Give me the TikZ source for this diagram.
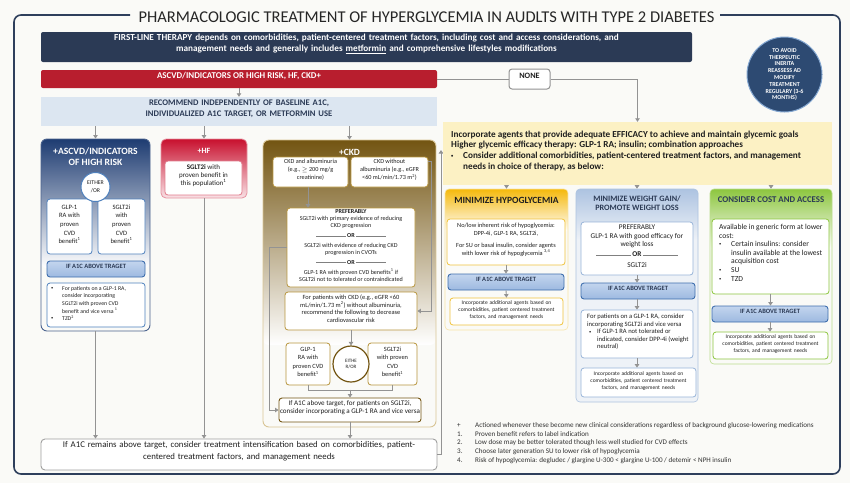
\documentclass[tikz,border=0pt]{standalone}
\usepackage{fontspec}
\setmainfont{Carlito}
\usetikzlibrary{arrows.meta,calc,fit,shapes.geometric}
\definecolor{bgc}{HTML}{FAFAF7}
\definecolor{navy}{HTML}{2B3A55}
\definecolor{framec}{HTML}{2E3F5C}
\definecolor{redbar}{HTML}{B81E2E}
\definecolor{recblue}{HTML}{DCE6F1}
\definecolor{colnavy}{HTML}{1E3C72}
\definecolor{boxblue}{HTML}{4F81BD}
\definecolor{hfred}{HTML}{C8102E}
\definecolor{ckdbrown}{HTML}{735512}
\definecolor{ckdgold}{HTML}{B8963E}
\definecolor{arrgray}{HTML}{939393}
\definecolor{adeqyel}{HTML}{FCF1C4}
\definecolor{hypoor}{HTML}{F5B90C}
\definecolor{hypobd}{HTML}{F0C33C}
\definecolor{wtblue}{HTML}{ADC3E1}
\definecolor{wtpale}{HTML}{EEF2F7}
\definecolor{wtbd}{HTML}{98B4D8}
\definecolor{costgr}{HTML}{8DC63F}
\definecolor{a1ctop}{HTML}{C3D5EE}
\definecolor{a1cbot}{HTML}{9DB9E0}
\definecolor{a1cbd}{HTML}{3E6EAD}
\definecolor{txt}{HTML}{1F1F1F}
\definecolor{circnavy}{HTML}{2D4A72}
\newcommand{\myorline}[1]{\textcolor{gray}{\rule[1.5pt]{#1}{0.4pt}}\,\textbf{OR}\,\textcolor{gray}{\rule[1.5pt]{#1}{0.4pt}}}
\newcommand{\mybul}[1]{\makebox[#1][l]{\raisebox{0.25ex}{\fontsize{4.5}{4.5}\selectfont\textbullet}}}
\begin{document}
\begin{tikzpicture}[x=1pt,y=-1pt,
  every node/.style={text=txt},
  arr/.style={draw=arrgray, line width=0.9pt, -{Triangle[width=4.5pt,length=3.5pt]}},
  ln/.style={draw=arrgray, line width=0.9pt},
  wbox/.style={fill=white, rounded corners=3pt, inner sep=0pt, align=center, line width=0.8pt},
  a1c/.style={draw=a1cbd, line width=0.9pt, rounded corners=3pt, top color=a1ctop, bottom color=a1cbot, inner sep=0pt, font=\bfseries\fontsize{6.5}{7}\selectfont, text=navy},
  smalltxt/.style={font=\fontsize{5.5}{7}\selectfont, align=center}
]
\useasboundingbox (0,0) rectangle (850,483);
\fill[bgc] (0,0) rectangle (850,483);
% frame
\draw[framec, line width=1.6pt, rounded corners=7pt] (130,15) -- (14,15) -- (14,474) -- (840,474) -- (840,15) -- (720,15);
\node[font=\fontsize{16.5}{20}\selectfont, text=black!85] (title) at (426.5,17) {PHARMACOLOGIC TREATMENT OF HYPERGLYCEMIA IN AUDLTS WITH TYPE 2 DIABETES};

% first line
\node[fill=navy, rounded corners=2pt, fit={(41,32) (692,62)}, inner sep=0pt, text=white, font=\bfseries\fontsize{9.2}{11.5}\selectfont, align=center] (first) {FIRST-LINE THERAPY depends on comorbidities, patient-centered treatment factors, including cost and access considerations, and\\management needs and generally includes \underline{metformin} and comprehensive lifestyles modifications};

\node[fill=redbar, rounded corners=2pt, fit={(41,70) (437,88)}, inner sep=0pt, text=white, font=\bfseries\fontsize{8.9}{10}\selectfont] (risk) {ASCVD/INDICATORS OR HIGH RISK, HF, CKD+};
\node[draw=arrgray, line width=1pt, fill=white, rounded corners=3pt, fit={(509,69) (550,89)}, inner sep=0pt, font=\bfseries\fontsize{8.2}{9}\selectfont] (none) {NONE};
\node[circle, fill=circnavy, draw=boxblue!70, line width=1pt, minimum size=75pt, inner sep=0pt, text=white, font=\bfseries\fontsize{6}{6.8}\selectfont, align=center] (remind) at (784.5,74.5) {TO AVOID\\THERPEUTIC\\INERITA\\REASSESS AD\\MODIFY\\TREATMENT\\REGULARY (3-6\\MONTHS)};

\node[fill=recblue, fit={(41,97) (437,126)}, inner sep=0pt, font=\bfseries\fontsize{8.6}{10.3}\selectfont, text=navy, align=center] (rec) {RECOMMEND INDEPENDENTLY OF BASELINE A1C,\\INDIVIDUALIZED A1C TARGET, OR METFORMIN USE};

\draw[ln] (risk.east) -- (none.west);
\draw[arr] (risk.south) -- (rec.north);

% ---------------- ASCVD column
\shade[top color=colnavy, bottom color=white, rounded corners=6pt] (41,139) rectangle (150,268);
\node[draw=colnavy!80, line width=0.9pt, rounded corners=6pt, fit={(41,139) (150,331)}, inner sep=0pt] (ascvd) {};
\node[text=white, font=\bfseries\fontsize{9.6}{11}\selectfont, align=center] (ascvdT) at (95.5,156.5) {+ASCVD/INDICATORS\\OF HIGH RISK};
\node[wbox, draw=boxblue, fit={(47,199) (92,254)}, font=\fontsize{6.6}{8.6}\selectfont] (glpA) {GLP-1\\RA with\\proven\\CVD\\benefit\textsuperscript{1}};
\node[wbox, draw=boxblue, fit={(98,199) (145,254)}, font=\fontsize{6.6}{8.6}\selectfont] (sgltA) {SGLT2i\\with\\proven\\CVD\\benefit\textsuperscript{1}};
\node[circle, draw=boxblue, line width=1pt, fill=white, minimum size=29pt, inner sep=0pt, font=\fontsize{5.8}{7.5}\selectfont, align=center] (eitherA) at (95.5,187) {EITHER\\/OR};
\node[a1c, fit={(47,261) (145,277)}] (a1cA) {IF A1C ABOVE TRAGET};
\node[wbox, draw=boxblue, fit={(47,283) (145,327)}] (bulA) {};
\node[anchor=north west, font=\fontsize{5.8}{7.6}\selectfont, align=left, inner sep=0pt] (bulAt) at (51,286) {\mybul{11pt}For patients on a GLP-1 RA,\\\hspace*{11pt}consider incorporating\\\hspace*{11pt}SGLT2i with proven CVD\\\hspace*{11pt}benefit and vice versa \textsuperscript{1}\\\mybul{11pt}TZD\textsuperscript{2}};
\draw[arr] (rec.south -| ascvd.north) -- (ascvd.north);

% ---------------- HF column
\shade[top color=hfred, bottom color=hfred!12, rounded corners=5pt] (161,139) rectangle (247,198);
\node[draw=hfred!45, line width=0.8pt, rounded corners=5pt, fit={(161,139) (247,198)}, inner sep=0pt] (hf) {};
\node[text=white, font=\bfseries\fontsize{8}{9}\selectfont] (hfT) at (204,151) {+HF};
\node[wbox, draw=hfred!55, fit={(165,161) (242,195)}, font=\fontsize{7}{8}\selectfont] (hfin) {\textbf{SGLT2i} with\\proven benefit in\\this population\textsuperscript{1}};
\draw[arr] (rec.south -| hf.north) -- (hf.north);

% ---------------- CKD column
\shade[top color=ckdbrown, bottom color=white, rounded corners=6pt] (263,140) rectangle (436,345);
\node[draw=ckdgold!55, line width=0.9pt, rounded corners=6pt, fit={(263,140) (436,427)}, inner sep=0pt] (ckd) {};
\node[text=white, font=\bfseries\fontsize{9.5}{11}\selectfont] (ckdT) at (349.5,152) {+CKD};
\node[wbox, draw=ckdgold, fit={(273,157) (348,187)}, font=\fontsize{6.2}{8}\selectfont] (ckdA) {CKD and albuminuria\\(e.g., $\geq$ 200 mg/g\\creatinine)};
\node[wbox, draw=ckdgold, fit={(351,157) (428,187)}, font=\fontsize{6.2}{8}\selectfont] (ckdB) {CKD without\\albuminuria (e.g., eGFR\\<60 mL/min/1.73 m\textsuperscript{2})};
\node[wbox, draw=ckdgold, fit={(287,208) (415,287)}, font=\fontsize{6.1}{6.9}\selectfont] (pref) {\textbf{PREFERABLY}\\SGLT2i with primary evidence of reducing\\CKD progression\\[3pt]\myorline{30pt}\\[3pt]SGLT2i with evidence of reducing CKD\\progression in CVOTs\\[3pt]\myorline{30pt}\\[3pt]GLP-1 RA with proven CVD benefits\textsuperscript{1} if\\SGLT2i not to tolerated or contraindicated};
\node[wbox, draw=ckdgold, fit={(285,292) (417,330)}, font=\fontsize{6.4}{7.8}\selectfont] (ckdC) {For patients with CKD (e.g., eGFR <60\\mL/min/1.73 m\textsuperscript{2}) without albuminuria,\\recommend the following to decrease\\cardiovascular risk};
\node[wbox, draw=ckdgold, fit={(286,343) (330,385)}, font=\fontsize{6.4}{8.4}\selectfont] (glpB) {GLP-1\\RA with\\proven CVD\\benefit\textsuperscript{1}};
\node[wbox, draw=ckdgold, fit={(368,343) (417,385)}, font=\fontsize{6.4}{8.4}\selectfont] (sgltB) {SGLT2i\\with proven\\CVD\\benefit\textsuperscript{1}};
\node[circle, draw=ckdbrown, line width=1.2pt, fill=white, minimum size=36pt, inner sep=0pt, font=\fontsize{5}{6.5}\selectfont, align=center] (eitherB) at (351,364) {EITHE\\R/OR};
\node[wbox, draw=ckdbrown, line width=0.9pt, fit={(279,398) (421,422)}, font=\fontsize{7.1}{8.8}\selectfont] (a1cC) {If A1C above target, for patients on SGLT2i,\\consider incorporating a GLP-1 RA and vice versa};
\draw[arr] (rec.south -| ckd.north) -- (ckd.north);
\draw[arr] (ckdA.south -| 308,0) -- (pref.north -| 308,0);
\draw[arr] ($(ckdB.north east)+(0,5)$) -- ++(3,0) |- (ckdC.east);
\draw[arr] (ckdC.south -| eitherB.north) -- (eitherB.north);
\draw[ln] (glpB.south) -- ++(0,5) -| (sgltB.south);
\coordinate (jn) at ($(a1cC.north)+(0,-8)$);
\draw[arr] (jn) -- (a1cC.north);
\draw[arr] (pref.west) -- ++(-17,0) |- (a1cC.west);

% bottom box
\node[draw=gray!75, line width=0.9pt, fill=white, rounded corners=4pt, fit={(41,439) (437,470)}, inner sep=0pt, font=\fontsize{8.8}{12}\selectfont, align=center] (bottom) {If A1C remains above target, consider treatment intensification based on comorbidities, patient-\\centered treatment factors, and management needs};
\draw[arr] (ascvd.south) -- (ascvd.south |- bottom.north);
\draw[arr] (hf.south) -- (hf.south |- bottom.north);
\draw[arr] (a1cC.south) -- (a1cC.south |- bottom.north);
\coordinate (upend) at (441,150);
\draw[arr] (bottom.east) -| (upend);

% ---------------- right side
\node[fill=adeqyel, fit={(443,122) (832,185)}, inner sep=0pt] (adeq) {};
\node[anchor=north west, inner sep=0pt, font=\bfseries\fontsize{9.2}{10.7}\selectfont, align=left] (adeqT) at (451,130.5) {Incorporate agents that provide adequate EFFICACY to achieve and maintain glycemic goals\\Higher glycemic efficacy therapy: GLP-1 RA; insulin; combination approaches\\\mybul{12pt}Consider additional comorbidities, patient-centered treatment factors, and management\\\hspace*{12pt}needs in choice of therapy, as below:};
\draw[arr] (none.east) -| (adeq.north);

% hypoglycemia column
\shade[top color=hypoor, bottom color=white, rounded corners=4pt] (445,189) rectangle (568,232);
\node[draw=hypobd!45, line width=0.6pt, rounded corners=4pt, fit={(445,189) (568,330)}, inner sep=0pt] (hypo) {};
\node[font=\bfseries\fontsize{9.5}{10}\selectfont] (hypoT) at (506.5,200) {MINIMIZE HYPOGLYCEMIA};
\node[wbox, draw=hypobd, fit={(447,219) (565,265)}, font=\fontsize{6.3}{7.6}\selectfont] (hypo1) {No/low inherent risk of hypoglycemia:\\DPP-4i, GLP-1 RA, SGLT2i,\\[5pt]For SU or basal insulin, consider agents\\with lower risk of hypoglycemia \textsuperscript{3,4}};
\node[a1c, fit={(448,274) (564,290)}] (a1cH) {IF A1C ABOVE TRAGET};
\node[wbox, draw=hypobd, fit={(450,298) (563,325)}, smalltxt] (hypo3) {Incorporate additional agents based on\\comorbidities, patient centered treatment\\factors, and management needs};
\draw[arr] (adeq.south -| hypo.north) -- (hypo.north);
\draw[arr] (hypo1.south) -- (a1cH.north);
\draw[arr] (a1cH.south) -- (hypo3.north);

% weight column
\fill[wtpale, rounded corners=4pt] (576,189) rectangle (698,402);
\shade[top color=wtblue, bottom color=wtpale, rounded corners=4pt] (576,189) rectangle (698,240);
\node[draw=wtbd!80, line width=0.6pt, rounded corners=4pt, fit={(576,189) (698,402)}, inner sep=0pt] (wt) {};
\node[font=\bfseries\fontsize{8.2}{9}\selectfont, text=navy, align=center] (wtT) at (637,203.5) {MINIMIZE WEIGHT GAIN/\\PROMOTE WEIGHT LOSS};
\node[wbox, draw=wtbd, fit={(581,222) (693,275)}, font=\fontsize{7.3}{8.7}\selectfont] (wt1) {PREFERABLY\\GLP-1 RA with good efficacy for\\weight loss\\[1pt]\myorline{35pt}\\[2pt]SGLT2i};
\node[a1c, fit={(581,283) (695,299)}] (a1cW) {IF A1C ABOVE TRAGET};
\node[wbox, draw=wtbd, fit={(581,310) (693,358)}] (wt2) {};
\node[anchor=north west, inner sep=0pt, font=\fontsize{6.6}{7.5}\selectfont, align=left] (wt2t) at (587,314) {For patients on a GLP-1 RA, consider\\incorporating SGLT2i and vice versa\\\hspace*{2pt}\mybul{8pt}If GLP-1 RA not tolerated or\\\hspace*{10pt}indicated, consider DPP-4i (weight\\\hspace*{10pt}neutral)};
\node[wbox, draw=wtbd, fit={(581,368) (696,397)}, smalltxt] (wt3) {Incorporate additional agents based on\\comorbidities, patient centered treatment\\factors, and management needs};
\draw[arr] (adeq.south -| wt.north) -- (wt.north);
\draw[arr] (wt1.south) -- (wt1.south |- a1cW.north);
\draw[arr] (a1cW.south -| wt2.north) -- (wt2.north);
\draw[arr] (wt2.south) -- (wt2.south |- wt3.north);

% cost column
\shade[top color=costgr, bottom color=white, rounded corners=4pt] (710,189) rectangle (832,250);
\node[draw=costgr!60, line width=0.6pt, rounded corners=4pt, fit={(710,189) (832,364)}, inner sep=0pt] (cost) {};
\node[font=\bfseries\fontsize{8.8}{9}\selectfont, text=navy] (costT) at (771,199.5) {CONSIDER COST AND ACCESS};
\node[wbox, draw=costgr, fit={(712,219) (829,294)}] (cost1) {};
\node[anchor=north west, inner sep=0pt, font=\fontsize{7.6}{8.6}\selectfont, align=left] (cost1t) at (719,224) {Available in generic form at lower\\cost:\\\mybul{12pt}Certain insulins: consider\\\hspace*{12pt}insulin available at the lowest\\\hspace*{12pt}acquisition cost\\\mybul{12pt}SU\\\mybul{12pt}TZD};
\node[a1c, fit={(712,306) (828,322)}] (a1cCo) {IF A1C ABOVE TRAGET};
\node[wbox, draw=costgr, fit={(713,332) (828,359)}, smalltxt] (cost3) {Incorporate additional agents based on\\comorbidities, patient centered treatment\\factors, and management needs};
\draw[arr] (adeq.south -| cost.north) -- (cost.north);
\draw[arr] (cost1.south) -- (cost1.south |- a1cCo.north);
\draw[arr] (a1cCo.south) -- (a1cCo.south |- cost3.north);

% footnotes
\node[anchor=north west, inner sep=0pt, font=\fontsize{7.1}{8.6}\selectfont, align=left, text=black!80] (notes) at (457,422.5) {\makebox[18pt][l]{+}Actioned whenever these become new clinical considerations regardless of background glucose-lowering medications\\\makebox[18pt][l]{1.}Proven benefit refers to label indication\\\makebox[18pt][l]{2.}Low dose may be better tolerated though less well studied for CVD effects\\\makebox[18pt][l]{3.}Choose later generation SU to lower risk of hypoglycemia\\\makebox[18pt][l]{4.}Risk of hypoglycemia: degludec / glargine U-300 < glargine U-100 / detemir < NPH insulin};
\end{tikzpicture}
\end{document}
